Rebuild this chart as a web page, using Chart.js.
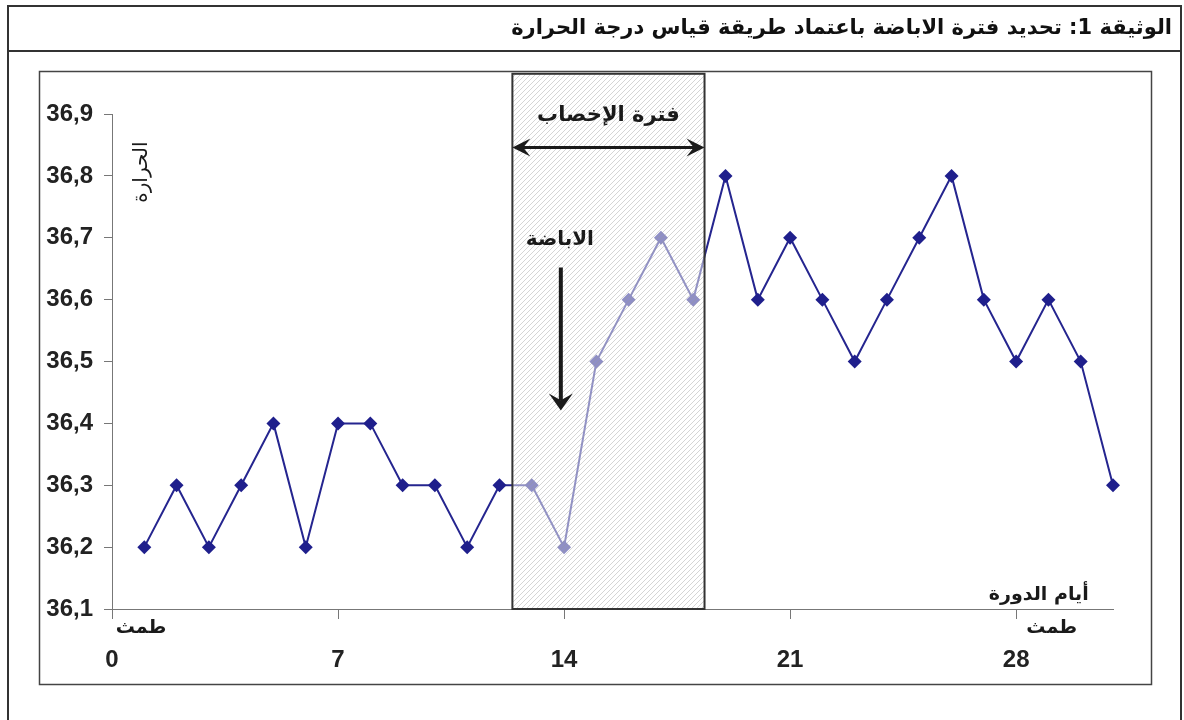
<!DOCTYPE html>
<html lang="ar">
<head>
<meta charset="utf-8">
<script src="https://cdn.jsdelivr.net/npm/chart.js@4"></script>
<style>
html, body { margin: 0; padding: 0; background: #fff; }
#wrap { width: 1184px; height: 720px; position: relative; }
</style>
</head>
<body>
<div id="wrap"><canvas id="temp"></canvas></div>
<script>
const days = [1, 2, 3, 4, 5, 6, 7, 8, 9, 10, 11, 12, 13, 14, 15, 16, 17, 18, 19, 20, 21, 22, 23, 24, 25, 26, 27, 28, 29, 30, 31];
const temps = [36.2, 36.3, 36.2, 36.3, 36.4, 36.2, 36.4, 36.4, 36.3, 36.3, 36.2, 36.3, 36.3, 36.2, 36.5, 36.6, 36.7, 36.6, 36.8, 36.6, 36.7, 36.6, 36.5, 36.6, 36.7, 36.8, 36.6, 36.5, 36.6, 36.5, 36.3];
const xTicks = [0, 7, 14, 21, 28];
const yTicks = [36.1, 36.2, 36.3, 36.4, 36.5, 36.6, 36.7, 36.8, 36.9];

const titleText = "الوثيقة 1: تحديد فترة الاباضة باعتماد طريقة قياس درجة الحرارة";
const xTitle = "أيام الدورة";
const yTitle = "الحرارة";
const fertileLabel = "فترة الإخصاب";
const ovulationLabel = "الاباضة";
const mensesLabel = "طمث";
const mensesDays = [0.9, 29.1];
const fertileStart = 12.4, fertileEnd = 18.35;
const ovulationDay = 13.9;

const AR_FONT = '"DejaVu Sans", "Liberation Sans", sans-serif';
const NUM_FONT = '"Liberation Sans", Arial, sans-serif';

function makeHatch() {
  const c = document.createElement("canvas");
  c.width = 5; c.height = 5;
  const g = c.getContext("2d");
  g.strokeStyle = "rgba(150,150,150,0.4)";
  g.lineWidth = 1;
  g.beginPath();
  g.moveTo(-1, 6); g.lineTo(6, -1);
  g.moveTo(-1, 1); g.lineTo(1, -1);
  g.moveTo(4, 6); g.lineTo(6, 4);
  g.stroke();
  return c;
}

function arrowHead(ctx, x, y, dir, len, half) {
  // dir: angle the arrow points to
  ctx.save();
  ctx.translate(x, y);
  ctx.rotate(dir);
  ctx.beginPath();
  ctx.moveTo(0, 0);
  ctx.lineTo(-len, -half);
  ctx.lineTo(-len * 0.6, 0);
  ctx.lineTo(-len, half);
  ctx.closePath();
  ctx.fill();
  ctx.restore();
}

const framePlugin = {
  id: "frame",
  beforeDraw(chart) {
    const ctx = chart.ctx;
    ctx.save();
    ctx.fillStyle = "#fff";
    ctx.fillRect(0, 0, chart.width, chart.height);
    // outer document frame + title bar
    ctx.strokeStyle = "#333";
    ctx.lineWidth = 2;
    ctx.strokeRect(8, 6, 1173, 730);
    ctx.beginPath();
    ctx.moveTo(8, 51); ctx.lineTo(1181, 51);
    ctx.stroke();
    // chart frame
    ctx.strokeStyle = "#444";
    ctx.lineWidth = 1.5;
    ctx.strokeRect(39.5, 71.5, 1112, 613);
    // title
    ctx.fillStyle = "#111";
    ctx.font = "bold 21px " + AR_FONT;
    ctx.direction = "rtl";
    ctx.textAlign = "right";
    ctx.textBaseline = "middle";
    ctx.fillText(titleText, 1172, 29);
    ctx.restore();
  },
  afterDatasetsDraw(chart) {
    const ctx = chart.ctx;
    const xs = chart.scales.x, ys = chart.scales.y;
    const x0 = xs.getPixelForValue(fertileStart), x1 = xs.getPixelForValue(fertileEnd);
    const yTop = ys.getPixelForValue(36.965), yBot = ys.getPixelForValue(36.1);
    ctx.save();
    // hatched fertile window
    ctx.fillStyle = "rgba(255,255,255,0.5)";
    ctx.fillRect(x0, yTop, x1 - x0, yBot - yTop);
    ctx.fillStyle = ctx.createPattern(makeHatch(), "repeat");
    ctx.fillRect(x0, yTop, x1 - x0, yBot - yTop);
    ctx.strokeStyle = "#333";
    ctx.lineWidth = 2;
    ctx.strokeRect(x0, yTop, x1 - x0, yBot - yTop);

    ctx.fillStyle = "#1a1a1a";
    ctx.strokeStyle = "#1a1a1a";
    ctx.direction = "rtl";
    ctx.textAlign = "center";
    ctx.textBaseline = "middle";

    // double arrow of the fertile period
    const yA = ys.getPixelForValue(36.846);
    ctx.lineWidth = 3;
    ctx.beginPath();
    ctx.moveTo(x0 + 8, yA); ctx.lineTo(x1 - 8, yA);
    ctx.stroke();
    arrowHead(ctx, x0, yA, Math.PI, 18, 9);
    arrowHead(ctx, x1, yA, 0, 18, 9);
    ctx.font = "bold 21px " + AR_FONT;
    ctx.fillText(fertileLabel, (x0 + x1) / 2, ys.getPixelForValue(36.898));

    // ovulation arrow
    const xo = xs.getPixelForValue(ovulationDay);
    ctx.font = "bold 20px " + AR_FONT;
    ctx.fillText(ovulationLabel, xs.getPixelForValue(13.87), ys.getPixelForValue(36.696));
    const yo0 = ys.getPixelForValue(36.652), yo1 = ys.getPixelForValue(36.421);
    ctx.lineWidth = 4;
    ctx.beginPath();
    ctx.moveTo(xo, yo0); ctx.lineTo(xo, yo1 - 10);
    ctx.stroke();
    arrowHead(ctx, xo, yo1, Math.PI / 2, 17, 12);

    // axis captions
    ctx.font = "bold 19px " + AR_FONT;
    mensesDays.forEach(d => ctx.fillText(mensesLabel, xs.getPixelForValue(d), yBot + 19));
    ctx.fillText(xTitle, xs.getPixelForValue(28.7), ys.getPixelForValue(36.123));
    ctx.font = "20px " + AR_FONT;
    ctx.translate(xs.getPixelForValue(0.93), ys.getPixelForValue(36.806));
    ctx.rotate(-Math.PI / 2);
    ctx.fillText(yTitle, 0, 0);
    ctx.restore();
  }
};

new Chart(document.getElementById("temp"), {
  type: "line",
  data: {
    labels: days,
    datasets: [{
      data: days.map((d, i) => ({x: d, y: temps[i]})),
      borderColor: "#25258f",
      backgroundColor: "#1f1f8c",
      borderWidth: 2,
      pointStyle: "rectRot",
      pointRadius: 7,
      pointBorderWidth: 0,
      tension: 0,
      clip: false
    }]
  },
  options: {
    responsive: true,
    maintainAspectRatio: false,
    animation: false,
    devicePixelRatio: 1,
    layout: { padding: { left: 0, top: 114, right: 71, bottom: 0 } },
    plugins: { legend: { display: false }, tooltip: { enabled: false } },
    scales: {
      x: {
        type: "linear",
        min: 0, max: 31,
        afterFit: s => { s.height = 111; },
        afterBuildTicks: s => { s.ticks = xTicks.map(v => ({value: v})); },
        border: { color: "#777", width: 1 },
        grid: { drawOnChartArea: false, drawTicks: true, tickLength: 10, color: "#777" },
        ticks: {
          padding: 27,
          color: "#222",
          maxRotation: 0,
          font: { family: NUM_FONT, size: 24, weight: "bold" }
        }
      },
      y: {
        min: 36.1, max: 36.9,
        afterFit: s => { s.width = 112; },
        afterBuildTicks: s => { s.ticks = yTicks.map(v => ({value: v})); },
        border: { color: "#777", width: 1 },
        grid: { drawOnChartArea: false, drawTicks: true, tickLength: 8, color: "#777" },
        ticks: {
          padding: 11,
          color: "#222",
          font: { family: NUM_FONT, size: 24, weight: "bold" },
          callback: v => v.toFixed(1).replace(".", ",")
        }
      }
    }
  },
  plugins: [framePlugin]
});
</script>
</body>
</html>
